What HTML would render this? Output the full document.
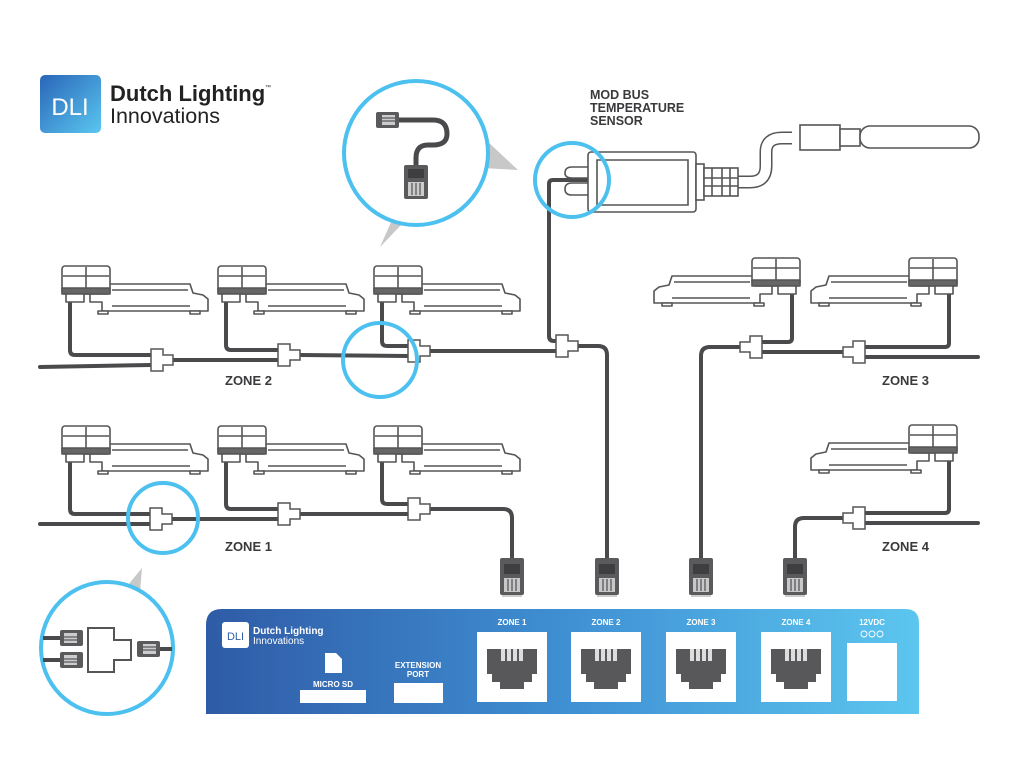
<!DOCTYPE html>
<html><head><meta charset="utf-8"><style>
html,body{margin:0;padding:0;background:#fff;}
svg{display:block;}
text{font-family:"Liberation Sans",sans-serif;}
</style></head><body>
<svg width="1024" height="764" viewBox="0 0 1024 764" xmlns="http://www.w3.org/2000/svg">
<defs>
<linearGradient id="lg" x1="0" y1="0" x2="1" y2="1">
<stop offset="0" stop-color="#2a66b8"/><stop offset="1" stop-color="#5ac6f0"/></linearGradient>
<linearGradient id="pg" x1="0" y1="0" x2="1" y2="0">
<stop offset="0" stop-color="#2f5ba6"/><stop offset="0.5" stop-color="#3f8fd3"/><stop offset="1" stop-color="#5cc6ef"/></linearGradient>
<g id="fx" fill="#fff" stroke="#555" stroke-width="1.6" stroke-linejoin="round">
<path d="M28,28 L28,36 L40,36 L40,45 L146,45 L146,33 L141,29 L131,27 L128,18 L48,18 Z"/>
<line x1="50" y1="24" x2="126" y2="24"/>
<line x1="50" y1="40" x2="128" y2="40"/>
<rect x="36" y="45" width="10" height="3"/>
<rect x="128" y="45" width="10" height="3"/>
<rect x="0" y="0" width="48" height="28" rx="3"/>
<line x1="1" y1="10" x2="47" y2="10"/>
<line x1="24" y1="1" x2="24" y2="22"/>
<rect x="0" y="22" width="48" height="6" fill="#666"/>
<rect x="4" y="28" width="18" height="8"/>
</g>
<g id="tc" fill="#fff" stroke="#555" stroke-width="1.5">
<path d="M-12,-11 H0 V-5 H10 V5 H0 V11 H-12 Z"/>
</g>
<g id="plug">
<rect x="-12" y="0" width="24" height="37" rx="2" fill="#5a5a5c"/>
<rect x="-8" y="6" width="16" height="10" fill="#3e3e40"/>
<rect x="-8" y="20" width="16" height="14" fill="#c8c8c8"/>
<path d="M-4,21 V33 M0,21 V33 M4,21 V33" stroke="#5a5a5c" stroke-width="1.3"/>
<rect x="-10" y="37" width="20" height="2" fill="#ccc"/>
</g>
<g id="jack">
<rect x="0" y="0" width="70" height="70" fill="#fff"/>
<path d="M10,17 H60 V42 H55 V50 H47 V57 H23 V50 H15 V42 H10 Z" fill="#58585a"/>
<rect x="24" y="17" width="4" height="12" fill="#ddd"/><rect x="30" y="17" width="4" height="12" fill="#ddd"/>
<rect x="36" y="17" width="4" height="12" fill="#ddd"/><rect x="42" y="17" width="4" height="12" fill="#ddd"/>
</g>
<g id="hplug">
<rect x="0" y="0" width="23" height="16" rx="2" fill="#5a5a5c"/>
<rect x="6" y="3" width="13" height="10" fill="#ccc"/>
<path d="M6,6 H19 M6,9 H19" stroke="#5a5a5c" stroke-width="1.2"/>
</g>
</defs>

<!-- top logo -->
<rect x="40" y="75" width="61" height="58" rx="5" fill="url(#lg)"/>
<text x="70" y="115" font-size="24" fill="#fff" text-anchor="middle" font-weight="300">DLI</text>
<text x="110" y="101" font-size="22" font-weight="bold" fill="#222">Dutch Lighting</text>
<text x="265" y="89" font-size="6" fill="#222">™</text>
<text x="110" y="123" font-size="21.5" fill="#222">Innovations</text>

<!-- cables -->
<g fill="none" stroke="#4a4a4c" stroke-width="4" stroke-linecap="round" stroke-linejoin="round">
<path d="M40,367 L151,365"/>
<path d="M70,302 V350 Q70,355 75,355 H151"/>
<path d="M173,360 L278,360"/>
<path d="M226,302 V345 Q226,350 231,350 H278"/>
<path d="M300,355 L408,356"/>
<path d="M382,302 V341 Q382,346 387,346 H408"/>
<path d="M430,351 H556"/>
<path d="M549,190 V336 Q549,341 554,341 H556"/>
<path d="M549,190 V184 Q549,180 553,180 H588"/>
<path d="M578,346 H598 Q607,346 607,355 V558"/>

<path d="M40,524 L150,524"/>
<path d="M70,462 V509 Q70,514 75,514 H150"/>
<path d="M172,519 H278"/>
<path d="M226,462 V504 Q226,509 231,509 H278"/>
<path d="M300,514 H408"/>
<path d="M382,462 V499 Q382,504 387,504 H408"/>
<path d="M430,509 H503 Q512,509 512,518 V558"/>

<path d="M792,292 V338 Q792,342 788,342 H762"/>
<path d="M843,352 H762"/>
<path d="M949,292 V343 Q949,347 945,347 H865"/>
<path d="M978,357 H865"/>
<path d="M740,347 H710 Q701,347 701,356 V558"/>
<path d="M949,459 V509 Q949,513 945,513 H865"/>
<path d="M978,523 H865"/>
<path d="M843,518 H804 Q795,518 795,527 V558"/>
</g>

<!-- T connectors -->
<use href="#tc" transform="translate(163,360)"/>
<use href="#tc" transform="translate(290,355)"/>
<use href="#tc" transform="translate(420,351)"/>
<use href="#tc" transform="translate(568,346)"/>
<use href="#tc" transform="translate(162,519)"/>
<use href="#tc" transform="translate(290,514)"/>
<use href="#tc" transform="translate(420,509)"/>
<use href="#tc" transform="translate(750,347) scale(-1,1)"/>
<use href="#tc" transform="translate(853,352) scale(-1,1)"/>
<use href="#tc" transform="translate(853,518) scale(-1,1)"/>

<!-- fixtures -->
<use href="#fx" transform="translate(62,266)"/>
<use href="#fx" transform="translate(218,266)"/>
<use href="#fx" transform="translate(374,266)"/>
<use href="#fx" transform="translate(62,426)"/>
<use href="#fx" transform="translate(218,426)"/>
<use href="#fx" transform="translate(374,426)"/>
<use href="#fx" transform="translate(800,258) scale(-1,1)"/>
<use href="#fx" transform="translate(957,258) scale(-1,1)"/>
<use href="#fx" transform="translate(957,425) scale(-1,1)"/>

<!-- plugs -->
<use href="#plug" transform="translate(512,558)"/>
<use href="#plug" transform="translate(607,558)"/>
<use href="#plug" transform="translate(701,558)"/>
<use href="#plug" transform="translate(795,558)"/>

<!-- sensor -->
<path d="M736,182 H750 Q766,182 766,166 V152 Q766,138 782,138 H792" fill="none" stroke="#555" stroke-width="13"/>
<path d="M736,182 H750 Q766,182 766,166 V152 Q766,138 782,138 H792" fill="none" stroke="#fff" stroke-width="10"/>
<g fill="#fff" stroke="#555" stroke-width="1.6">
<path d="M588,167 H572 Q565,167 565,173 Q565,178 572,178 H588 M588,183 H572 Q565,183 565,189 Q565,195 572,195 H588"/>
<rect x="588" y="152" width="108" height="60" rx="3"/>
<path d="M597,160 H688 V205 H597 Z"/>
<rect x="696" y="164" width="8" height="36"/>
<rect x="704" y="168" width="34" height="28"/>
<path d="M712,168 V196 M722,168 V196 M730,168 V196 M704,178 H738 M704,186 H738"/>
<rect x="800" y="125" width="40" height="25"/>
<rect x="840" y="129" width="20" height="17"/>
<rect x="860" y="126" width="119" height="22" rx="10"/>
</g>
<text font-size="12.5" font-weight="bold" fill="#3a3a3c"><tspan x="590" y="99">MOD BUS</tspan><tspan x="590" y="112">TEMPERATURE</tspan><tspan x="590" y="125">SENSOR</tspan></text>

<!-- zone labels -->
<g font-size="13" font-weight="bold" fill="#3a3a3c">
<text x="225" y="385">ZONE 2</text>
<text x="225" y="551">ZONE 1</text>
<text x="882" y="385">ZONE 3</text>
<text x="882" y="551">ZONE 4</text>
</g>

<!-- callout circles -->
<path d="M486,140 L518,170 L482,168 Z" fill="#c8c8c8"/>
<path d="M392,220 L380,247 L402,224 Z" fill="#c8c8c8"/>
<circle cx="416" cy="153" r="72" fill="#fff" stroke="#4cc0ee" stroke-width="4"/>
<path d="M399,120 H433 Q447,120 447,134 Q447,145 433,145 H428 Q416,145 416,158 V165" fill="none" stroke="#4a4a4c" stroke-width="5"/>
<g transform="translate(376,112)"><use href="#hplug"/></g>
<g transform="translate(416,165)"><rect x="-12" y="0" width="24" height="34" rx="2" fill="#5a5a5c"/><rect x="-8" y="4" width="16" height="9" fill="#3e3e40"/><rect x="-8" y="17" width="16" height="14" fill="#ccc"/><path d="M-4,18 V30 M0,18 V30 M4,18 V30" stroke="#5a5a5c" stroke-width="1.3"/></g>

<circle cx="380" cy="360" r="37" fill="none" stroke="#4cc0ee" stroke-width="4"/>
<circle cx="572" cy="180" r="37" fill="none" stroke="#4cc0ee" stroke-width="4"/>
<circle cx="163" cy="518" r="35" fill="none" stroke="#4cc0ee" stroke-width="4"/>

<path d="M128,585 L142,568 L140,592 Z" fill="#c8c8c8"/>
<circle cx="107" cy="648" r="66" fill="#fff" stroke="#4cc0ee" stroke-width="4"/>
<path d="M43,638 H60 M43,660 H60 M160,649 H172" stroke="#4a4a4c" stroke-width="4"/>
<use href="#hplug" transform="translate(83,646) scale(-1,-1)"/>
<use href="#hplug" transform="translate(83,668) scale(-1,-1)"/>
<use href="#hplug" transform="translate(137,641)"/>
<path d="M88,628 H114 V640 H131 V660 H114 V672 H88 Z" fill="#fff" stroke="#555" stroke-width="2"/>

<!-- controller -->
<path d="M206,714 V625 Q206,609 222,609 H905 Q919,609 919,623 V714 Z" fill="url(#pg)"/>
<rect x="222" y="622" width="27" height="26" rx="3" fill="#fff"/>
<text x="235.5" y="640" font-size="11" fill="#2f5ea8" text-anchor="middle">DLI</text>
<text x="253" y="634" font-size="10" font-weight="bold" fill="#fff">Dutch Lighting</text>
<text x="253" y="644" font-size="10" fill="#fff">Innovations</text>
<path d="M325,653 H336 L342,659 V673 H325 Z" fill="#fff"/>
<text x="333" y="687" font-size="8" font-weight="bold" fill="#fff" text-anchor="middle">MICRO SD</text>
<rect x="300" y="690" width="66" height="13" fill="#fff"/>
<text x="418" y="668" font-size="8" font-weight="bold" fill="#fff" text-anchor="middle">EXTENSION</text>
<text x="418" y="677" font-size="8" font-weight="bold" fill="#fff" text-anchor="middle">PORT</text>
<rect x="394" y="683" width="49" height="20" fill="#fff"/>
<g font-size="8" font-weight="bold" fill="#fff" text-anchor="middle">
<text x="512" y="625">ZONE 1</text>
<text x="606" y="625">ZONE 2</text>
<text x="701" y="625">ZONE 3</text>
<text x="796" y="625">ZONE 4</text>
<text x="872" y="625">12VDC</text>
</g>
<g fill="none" stroke="#fff" stroke-width="0.9"><circle cx="864" cy="634" r="3"/><circle cx="872" cy="634" r="3"/><circle cx="880" cy="634" r="3"/></g>
<use href="#jack" transform="translate(477,632)"/>
<use href="#jack" transform="translate(571,632)"/>
<use href="#jack" transform="translate(666,632)"/>
<use href="#jack" transform="translate(761,632)"/>
<rect x="847" y="643" width="50" height="58" fill="#fff"/>
</svg>
</body></html>
